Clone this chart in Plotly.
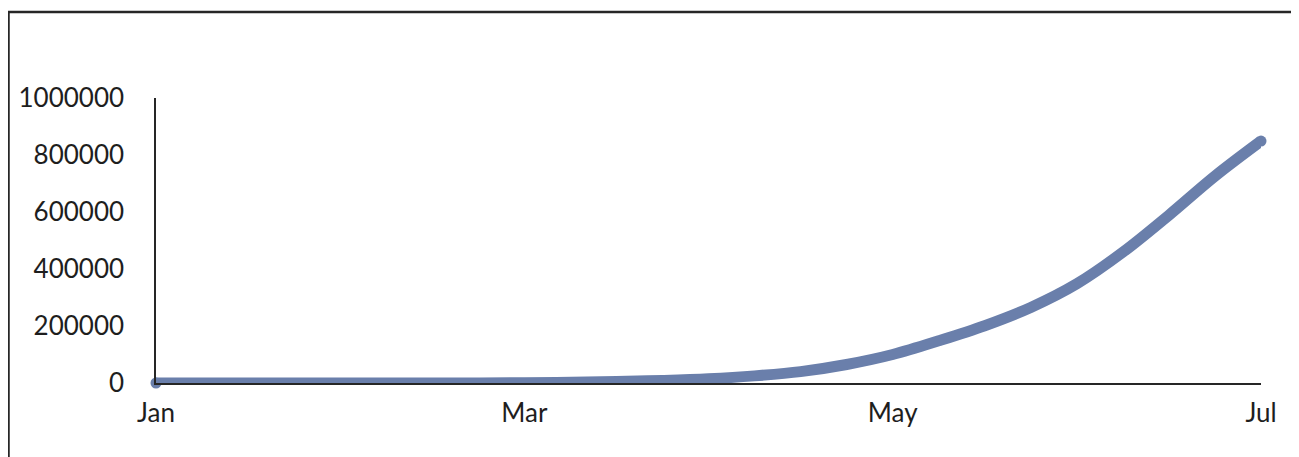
import plotly.graph_objects as go

# Data (0 = Jan ... 6 = Jul, finer steps where the curve rises)
months_pos = [0, 0.5, 1, 1.5, 2, 2.5, 2.75, 3, 3.25, 3.5, 3.75, 4, 4.25, 4.5, 4.75,
              5, 5.25, 5.5, 5.75, 6]
cases = [0, 0, 0, 0, 1000, 5000, 9000, 15000, 25000, 40000, 65000, 100000, 148000,
         201000, 265000, 348000, 459000, 589000, 726000, 849000]
tick_pos = [0, 2, 4, 6]
tick_labels = ["Jan", "Mar", "May", "Jul"]
y_ticks = [0, 200000, 400000, 600000, 800000, 1000000]

LINE = "#6a7fab"
AX = "#262626"
FONT = dict(family="Lato, 'Open Sans', sans-serif", size=26, color="#1e1e1e")

# page is offset by the body margin
OFF = 7
W, H = 1299 - OFF, 457 - OFF
L, R, T, B = 155 - OFF, 1260 - OFF, 97 - OFF, 382 - OFF

def px(x):
    return (x - OFF - L) / (R - L)

def py(y):
    return (B - (y - OFF)) / (B - T)

fig = go.Figure()
fig.add_trace(go.Scatter(
    x=months_pos, y=cases, mode="lines",
    line=dict(color=LINE, width=11, shape="spline", smoothing=1),
    hoverinfo="skip", showlegend=False,
))
# round line caps at the ends
fig.add_trace(go.Scatter(
    x=[months_pos[0], months_pos[-1]], y=[cases[0], cases[-1]], mode="markers",
    marker=dict(color=LINE, size=11, line=dict(width=0)),
    hoverinfo="skip", showlegend=False, cliponaxis=False,
))

fig.update_layout(
    width=W, height=H,
    margin=dict(l=L, r=W - R, t=T, b=H - B, pad=0, autoexpand=False),
    paper_bgcolor="white", plot_bgcolor="white",
    font=FONT,
    xaxis=dict(
        range=[0, 6], tickvals=tick_pos, ticktext=tick_labels, automargin=False,
        showgrid=False, zeroline=False, showline=True, linecolor=AX, linewidth=1.5,
        ticks="", ticklabelstandoff=6, tickfont=FONT, fixedrange=True,
    ),
    yaxis=dict(
        range=[0, 1000000], tickvals=y_ticks, tickformat="d", automargin=False,
        showgrid=False, zeroline=False, showline=True, linecolor=AX, linewidth=1.5,
        ticks="", ticklabelstandoff=25, tickfont=FONT, fixedrange=True,
    ),
    shapes=[
        dict(type="line", xref="paper", yref="paper", x0=px(6), x1=px(1299), y0=py(11), y1=py(11),
             line=dict(color="#262626", width=2.5)),
        dict(type="line", xref="paper", yref="paper", x0=px(7.5), x1=px(7.5), y0=py(10), y1=py(460),
             line=dict(color="#262626", width=2.5)),
        dict(type="line", xref="paper", yref="paper", x0=px(1297.5), x1=px(1297.5), y0=py(12), y1=py(460),
             line=dict(color="#d0d0d0", width=1.5)),
    ],
)

fig.write_html("out.html")
